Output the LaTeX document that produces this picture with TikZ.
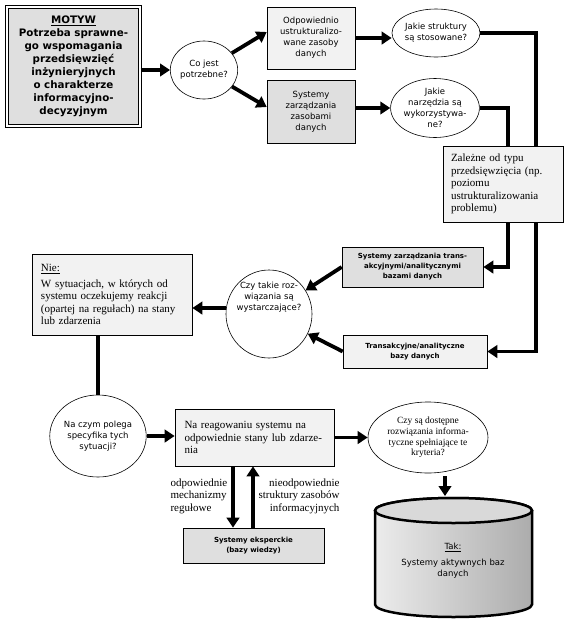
\documentclass[tikz,border=0pt]{standalone}
\usepackage{fontspec}
\setmainfont{Liberation Serif}
\setsansfont{DejaVu Sans}
\usetikzlibrary{arrows.meta,shapes.geometric}
\tikzset{
	box/.style={draw, line width=0.6pt, inner sep=0pt, align=center},
	lightbox/.style={box, fill=gray!10},
	darkbox/.style={box, fill=gray!25},
	motivebox/.style={box, fill=gray!25, double, double distance=2pt, line width=0.8pt},
	bubble/.style={ellipse, draw, line width=0.6pt, fill=white, inner sep=0pt, align=center},
	sans/.style={font=\sffamily\fontsize{8.5}{11}\selectfont},
	boldsmall/.style={font=\sffamily\bfseries\fontsize{7}{10}\selectfont},
	boldbig/.style={font=\sffamily\bfseries\fontsize{10.3}{13}\selectfont},
	serif/.style={font=\fontsize{11}{12.5}\selectfont},
	smallserif/.style={font=\fontsize{9.5}{10.7}\selectfont},
	arr/.style={line width=3.8pt, -{Triangle[length=10pt,width=12.5pt]}},
	conn/.style={line width=3.8pt},
	drum/.style={line width=2.5pt, left color=gray!15, right color=gray!65},
	drumcap/.style={line width=2.5pt, fill=gray!30},
}
\begin{document}
\begin{tikzpicture}[x=1pt,y=-1pt]
	\useasboundingbox (0,0) rectangle (567,625);
	% top row
	\node[motivebox, boldbig, minimum width=133.4pt, minimum height=119.4pt] at (73.5,66.5) (motive) {\underline{MOTYW}\\Potrzeba sprawne-\\go wspomagania\\przedsięwzięć\\inżynieryjnych\\o charakterze\\informacyjno-\\decyzyjnym};
	\node[bubble, sans, minimum width=67pt, minimum height=58pt] at (204,70) (need) {Co jest\\potrzebne?};
	\node[lightbox, sans, minimum width=88pt, minimum height=62pt] at (311,38) (res1) {Odpowiednio\\ustrukturalizo-\\wane zasoby\\danych};
	\node[darkbox, sans, minimum width=88pt, minimum height=63pt] at (311,111.5) (res2) {Systemy\\zarządzania\\zasobami\\danych};
	\node[bubble, sans, minimum width=88pt, minimum height=48pt] at (436,33) (ask1) {Jakie struktury\\są stosowane?};
	\node[bubble, sans, minimum width=86pt, minimum height=59pt] at (435,108) (ask2) {Jakie\\narzędzia są\\wykorzystywa-\\ne?};
	
	% middle
	\node[darkbox, boldsmall, minimum width=141pt, minimum height=40pt] at (412.5,267) (tsys) {Systemy zarządzania trans-\\akcyjnymi/analitycznymi\\bazami danych};
	\node[lightbox, boldsmall, minimum width=144pt, minimum height=33pt] at (415,351.5) (trans) {Transakcyjne/analityczne\\bazy danych};
	\node[bubble, minimum width=86pt, minimum height=88pt] at (269,314) (enough) {};
	\node[sans, align=center] at (269,297) (enoughtext) {Czy takie roz-\\wiązania są\\wystarczające?};
	\node[lightbox, serif, minimum width=160pt, minimum height=81pt, text width=142pt, align=left] at (112,294.5) (nie) {\underline{Nie:}\\[3pt]W sytuacjach, w których od\\systemu oczekujemy reakcji\\(opartej na regułach) na stany\\lub zdarzenia};
	
	% bottom
	\node[bubble, sans, minimum width=88pt, minimum height=82pt] at (98,436) (specif) {Na czym polega\\specyfika tych\\sytuacji?};
	\node[lightbox, serif, minimum width=159pt, minimum height=57pt, text width=140pt, align=left] at (254.5,437.5) (react) {Na reagowaniu systemu na\\odpowiednie stany lub zdarze-\\nia};
	\node[bubble, smallserif, minimum width=120pt, minimum height=71pt] at (428,437.5) (check) {Czy są dostępne\\rozwiązania informa-\\tyczne spełniające te\\kryteria?};
	\node[darkbox, boldsmall, minimum width=141pt, minimum height=35pt] at (253.5,545.5) (experts) {Systemy eksperckie\\(bazy wiedzy)};
	\node[serif, align=left, anchor=west] at (167,496) (rulelabel) {odpowiednie\\mechanizmy\\regułowe};
	\node[serif, align=right, anchor=east] at (343,496) (misfitlabel) {nieodpowiednie\\struktury zasobów\\informacyjnych};
	
	% drum
	\draw[drum] (375,510.5) -- (375,604.5) arc[start angle=180, end angle=360, x radius=78.5pt, y radius=12.5pt]
		-- (532,510.5) arc[start angle=0, end angle=180, x radius=78.5pt, y radius=12.5pt] -- cycle;
	\draw[drumcap] (453.5,510.5) ellipse[x radius=78.5pt, y radius=12.5pt];
	\node[sans, align=center] at (453,561) (drumtext) {\underline{Tak:}\\[5pt]Systemy aktywnych baz\\danych};
	\coordinate (drumtop) at (445,496);
	\coordinate (downx) at (233,0);
	\coordinate (upx) at (253,0);
	
	% connectors
	\draw[arr] (motive.east |- need.west) -- (need.west);
	\draw[arr] (need) -- ([yshift=6pt]res1.west);
	\draw[arr] (need) -- ([yshift=4.5pt]res2.west);
	\draw[arr] (res1.east) -- (res1.east -| ask1.west);
	\draw[arr] (res2.east |- ask2.west) -- (ask2.west);
	\draw[arr] (ask1.east) -| ([xshift=49pt]trans.east) -- (trans.east);
	\draw[arr] (ask2.east) -| ([xshift=25pt]tsys.east) -- (tsys.east);
	\node[lightbox, serif, minimum width=120pt, minimum height=76pt, text width=104pt, align=left] at (503,184) (depends) {Zależne od typu\\przedsięwzięcia (np.\\poziomu\\ustrukturalizowania\\problemu)};
	\draw[arr] (tsys.west) -- (enough);
	\draw[arr] (trans.west) -- (enough);
	\draw[arr] ([yshift=6pt]enough.west) -- ([yshift=6pt]enough.west -| nie.east);
	\draw[conn] (nie.south -| specif.north) -- (specif.north);
	\draw[arr] (specif.east) -- (specif.east -| react.west);
	\draw[arr] (react.east) -- (check.west);
	\draw[arr] ([xshift=17pt,yshift=-3pt]check.south) -- (drumtop);
	\draw[arr] (downx |- react.south) -- (downx |- experts.north);
	\draw[arr] (upx |- experts.north) -- (upx |- react.south);
\end{tikzpicture}
\end{document}
